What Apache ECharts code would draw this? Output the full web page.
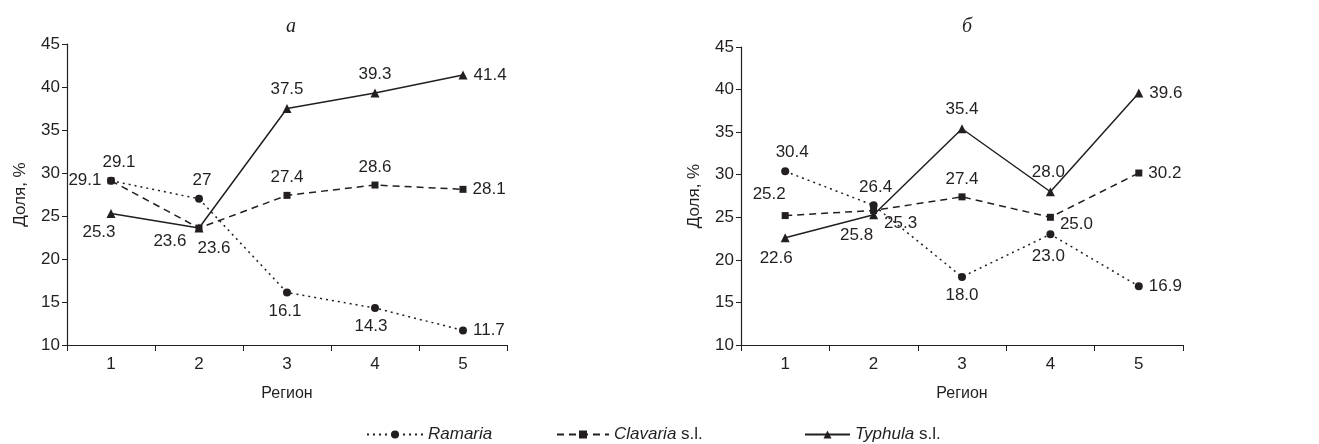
<!DOCTYPE html>
<html><head><meta charset="utf-8">
<script src="https://cdn.jsdelivr.net/npm/echarts@6/dist/echarts.min.js"></script>
<style>html,body{margin:0;padding:0;background:#fff}#c{width:1319px;height:444px}</style>
</head><body><div id="c"></div>
<script>
// ---- data ----
const regions = ['1', '2', '3', '4', '5'];
const seriesNames = ['Ramaria', 'Clavaria s.l.', 'Typhula s.l.'];
const yTicks = [10, 15, 20, 25, 30, 35, 40, 45];
// panel а
const ramariaA = [29.1, 27, 16.1, 14.3, 11.7];
const clavariaA = [29.1, 23.6, 27.4, 28.6, 28.1];
const typhulaA = [25.3, 23.6, 37.5, 39.3, 41.4];
// panel б
const ramariaB = [30.4, 26.4, 18.0, 23.0, 16.9];
const clavariaB = [25.2, 25.8, 27.4, 25.0, 30.2];
const typhulaB = [22.6, 25.3, 35.4, 28.0, 39.6];

// ---- label placement (style only) ----
const posA = {
  r: [['top', [8, 0]], ['top', [3, 0]], ['bottom', [-2, 0]], ['bottom', [-4, 0]], ['right', [0, 0]]],
  c: [['left', [0, 0]], ['bottom', [15, 2]], ['top', [0, 0]], ['top', [0, 0]], ['right', [0, 0]]],
  t: [['bottom', [-12, 0]], ['left', [-2, 13]], ['top', [0, 0]], ['top', [0, 0]], ['right', [0, 0]]]
};
const posB = {
  r: [['top', [7, 0]], ['top', [2, 0]], ['bottom', [0, 0]], ['bottom', [-2, 3]], ['right', [0, 0]]],
  c: [['top', [-16, -3]], ['bottom', [-17, 7]], ['top', [0, 0]], ['right', [0, 7]], ['right', [0, 0]]],
  t: [['bottom', [-9, 2]], ['right', [0, 9]], ['top', [0, 0]], ['top', [-2, 0]], ['right', [0, 0]]]
};

const FONT = '"Liberation Sans", Arial, sans-serif';
const INK = '#231f20';
const symbols = ['circle', 'rect', 'triangle'];
const symbolSizes = [8, 7, 9];
const lineTypes = [[2, 4], [7, 5], 'solid'];

function mkSeries(name, idx, values, pos, axisIdx, fmt) {
  return {
    name: name, type: 'line', xAxisIndex: axisIdx, yAxisIndex: axisIdx,
    symbol: symbols[idx], symbolSize: symbolSizes[idx],
    lineStyle: { color: INK, width: 1.5, type: lineTypes[idx] },
    itemStyle: { color: INK },
    label: { show: true, color: INK, fontFamily: FONT, fontSize: 17, distance: 6, formatter: fmt },
    emphasis: { disabled: true },
    animation: false,
    data: values.map((v, i) => ({ value: v, label: { position: pos[i][0], offset: pos[i][1] } }))
  };
}
const fmtA = p => String(p.value);
const fmtB = p => Number(p.value).toFixed(1);

function xAx(gi) {
  return {
    type: 'category', gridIndex: gi, data: regions, boundaryGap: true,
    name: 'Регион', nameLocation: 'middle', nameGap: 41,
    nameTextStyle: { fontFamily: FONT, fontSize: 16, color: INK },
    axisLine: { lineStyle: { color: INK, width: 1.2 } },
    axisTick: { show: true, length: 6, alignWithLabel: false, lineStyle: { color: INK } },
    axisLabel: { fontFamily: FONT, fontSize: 17, color: INK, margin: 11 },
    splitLine: { show: false }
  };
}
function yAx(gi) {
  return {
    type: 'value', gridIndex: gi, min: yTicks[0], max: yTicks[yTicks.length - 1], interval: 5,
    name: 'Доля, %', nameLocation: 'middle', nameGap: 38, nameRotate: 90,
    nameTextStyle: { fontFamily: FONT, fontSize: 17, color: INK },
    axisLine: { show: true, lineStyle: { color: INK, width: 1.2 } },
    axisTick: { show: true, length: 5, lineStyle: { color: INK } },
    axisLabel: { fontFamily: FONT, fontSize: 17, color: INK, margin: 7 },
    splitLine: { show: false }
  };
}

function mkLegend(name, left, w) {
  return {
    left: left, top: 421, itemWidth: w, itemHeight: 10, itemGap: 0,
    textStyle: {
      fontFamily: FONT, fontSize: 17, color: INK,
      rich: { i: { fontFamily: FONT, fontSize: 17, fontStyle: 'italic', color: INK } }
    },
    formatter: function (n) {
      const parts = n.split(' ');
      return '{i|' + parts[0] + '}' + (parts.length > 1 ? ' ' + parts.slice(1).join(' ') : '');
    },
    data: [name]
  };
}

const chart = echarts.init(document.getElementById('c'), null, { renderer: 'canvas' });
chart.setOption({
  backgroundColor: '#fff',
  animation: false,
  title: [
    { text: 'a', left: 281, top: 12, textStyle: { fontFamily: '"Liberation Serif", serif', fontStyle: 'italic', fontWeight: 'normal', fontSize: 20, color: INK } },
    { text: 'б', left: 957, top: 12, textStyle: { fontFamily: '"Liberation Serif", serif', fontStyle: 'italic', fontWeight: 'normal', fontSize: 20, color: INK } }
  ],
  grid: [
    { left: 67, top: 44, width: 440, height: 301 },
    { left: 741, top: 47, width: 442, height: 298 }
  ],
  xAxis: [xAx(0), xAx(1)],
  yAxis: [yAx(0), yAx(1)],
  legend: [
    mkLegend(seriesNames[0], 361, 56),
    mkLegend(seriesNames[1], 551, 52),
    mkLegend(seriesNames[2], 799, 45)
  ],
  series: [
    mkSeries(seriesNames[0], 0, ramariaA, posA.r, 0, fmtA),
    mkSeries(seriesNames[1], 1, clavariaA, posA.c, 0, fmtA),
    mkSeries(seriesNames[2], 2, typhulaA, posA.t, 0, fmtA),
    mkSeries(seriesNames[0], 0, ramariaB, posB.r, 1, fmtB),
    mkSeries(seriesNames[1], 1, clavariaB, posB.c, 1, fmtB),
    mkSeries(seriesNames[2], 2, typhulaB, posB.t, 1, fmtB)
  ]
});
</script></body></html>
